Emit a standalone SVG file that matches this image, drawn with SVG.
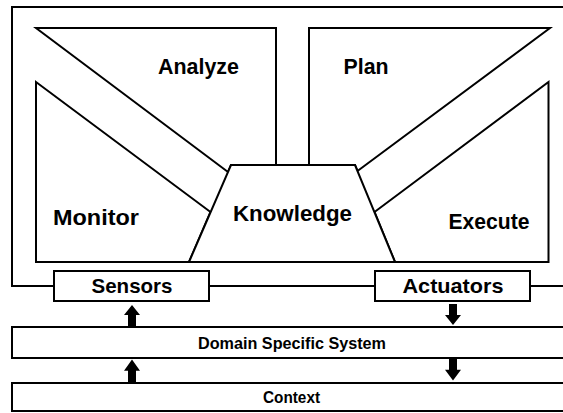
<svg xmlns="http://www.w3.org/2000/svg" xmlns:xlink="http://www.w3.org/1999/xlink" width="563" height="413" viewBox="0 0 563 413">
<style>
.s{fill:#fff;stroke:#000;stroke-width:2;stroke-linejoin:miter}
.ln{fill:none;stroke:#000;stroke-width:2}
.t{font-family:"Liberation Sans",Arial,sans-serif;font-weight:bold;fill:#000;text-anchor:middle}
.big{font-size:22px}
.mid{font-size:21px}
.sm{font-size:16px}
</style>
<defs>
<path id="up" d="M0 0 L8 10 L4 10 L4 21 L-4 21 L-4 10 L-8 10 Z" fill="#000"/>
</defs>
<rect x="0" y="0" width="563" height="413" fill="#fff"/>
<g id="connectors">
<path class="ln" d="M563 7 H12 V286 H54 M209 286 H375 M530 286 H563"/>
<use xlink:href="#up" transform="translate(132,305)"/>
<use xlink:href="#up" transform="translate(132,359.5) scale(1,1.125)"/>
<use xlink:href="#up" transform="translate(453,325) scale(1,-1)"/>
<use xlink:href="#up" transform="translate(453,380.5) scale(1,-1.075)"/>
</g>
<g id="analyze">
<polygon class="s" points="36,28 276,28 276,165 231,165 228,172"/>
<text class="t big" x="198.5" y="74" textLength="81" lengthAdjust="spacingAndGlyphs">Analyze</text>
</g>
<g id="plan">
<polygon class="s" points="309,28 550,28 357.5,171 355,165 309,165"/>
<text class="t big" x="366" y="74" textLength="45" lengthAdjust="spacingAndGlyphs">Plan</text>
</g>
<g id="monitor">
<polygon class="s" points="36,82 210.5,212 189,262 36,262"/>
<text class="t big" x="96" y="225" textLength="86" lengthAdjust="spacingAndGlyphs">Monitor</text>
</g>
<g id="execute">
<polygon class="s" points="548.5,82 548.5,262 395,262 374.5,212"/>
<text class="t big" x="489" y="229" textLength="81" lengthAdjust="spacingAndGlyphs">Execute</text>
</g>
<g id="knowledge">
<polygon class="s" points="231,165 355,165 395,262 189,262"/>
<text class="t big" x="292.5" y="221" textLength="119" lengthAdjust="spacingAndGlyphs">Knowledge</text>
</g>
<g id="sensors">
<rect class="s" x="54" y="271" width="155" height="30"/>
<text class="t mid" x="132" y="293" textLength="81" lengthAdjust="spacingAndGlyphs">Sensors</text>
</g>
<g id="actuators">
<rect class="s" x="375" y="271" width="155" height="30"/>
<text class="t mid" x="453" y="293" textLength="101" lengthAdjust="spacingAndGlyphs">Actuators</text>
</g>
<g id="domain">
<rect class="s" x="12" y="327" width="600" height="31"/>
<text class="t sm" x="292" y="349" textLength="188" lengthAdjust="spacingAndGlyphs">Domain Specific System</text>
</g>
<g id="context">
<rect class="s" x="12" y="383" width="600" height="28"/>
<text class="t sm" x="291.5" y="403" textLength="57" lengthAdjust="spacingAndGlyphs">Context</text>
</g>
</svg>
